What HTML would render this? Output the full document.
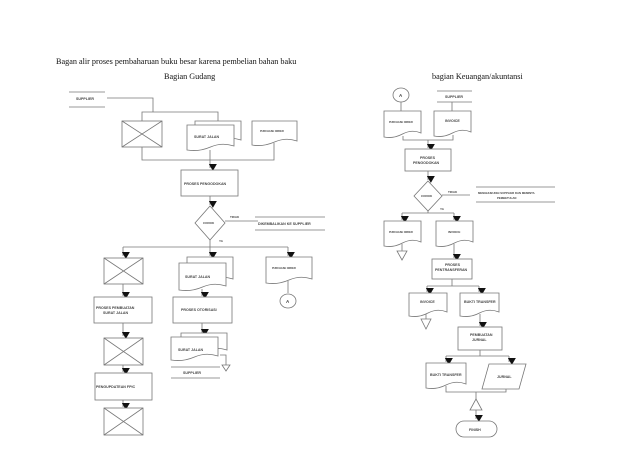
<!DOCTYPE html>
<html><head><meta charset="utf-8"><style>
html,body{margin:0;padding:0;background:#fff;}
svg{display:block;}
.t{font-family:"Liberation Serif",serif;fill:#111;}
.s{font-family:"Liberation Sans",sans-serif;font-size:3.6px;font-weight:bold;fill:#444;}
</style></head><body>
<svg width="638" height="452" viewBox="0 0 638 452" xmlns="http://www.w3.org/2000/svg">
<defs>
<marker id="a" markerUnits="userSpaceOnUse" markerWidth="8" markerHeight="8" refX="3.5" refY="6" orient="auto-start-reverse" viewBox="0 0 7 7"><path d="M0 0 L7 0 L3.5 6 Z" fill="#111" transform="rotate(-90 3.5 3.5)"/></marker>
</defs>
<text class="t" x="56" y="64" font-size="8.2">Bagan alir proses pembaharuan buku besar karena pembelian bahan baku</text>
<text class="t" x="164" y="79" font-size="8.2">Bagian Gudang</text>
<text class="t" x="432" y="79" font-size="8.2">bagian Keuangan/akuntansi</text>

<g fill="#fff" stroke="#777" stroke-width="0.8">
<!-- LEFT -->
<line x1="69" y1="92" x2="105" y2="92"/><line x1="69" y1="107" x2="105" y2="107"/>
<polyline fill="none" points="107,98 153,98 153,112"/>
<polyline fill="none" points="142,121 142,112 218,112 218,121"/>
<rect x="122" y="121" width="40" height="26"/><path d="M122 121 L162 147 M162 121 L122 147"/>
<path d="M195 121 H241 V140 Q229.5 136 218 141 T195 144 Z"/>
<path d="M187 125 H234 V146 Q222 142 210.5 147 T187 150 Z"/>
<path d="M252 121 H297 V141 Q286 137 274.5 142 T252 145 Z"/>
<polyline fill="none" points="142,147 142,160 274,160 274,143"/>
<line x1="210" y1="150" x2="210" y2="168" marker-end="url(#a)"/>
<rect x="181" y="170" width="57" height="26"/>
<line x1="210" y1="196" x2="210" y2="205" marker-end="url(#a)"/>
<path d="M210 206 L225 223 L210 240 L195 223 Z"/>
<line x1="225" y1="221" x2="258" y2="221"/>
<line x1="255" y1="217" x2="325" y2="217"/><line x1="255" y1="230" x2="325" y2="230"/>
<line x1="210" y1="240" x2="210" y2="247"/>
<line x1="123" y1="247" x2="288" y2="247"/>
<line x1="123" y1="247" x2="123" y2="256" marker-end="url(#a)"/>
<line x1="210" y1="247" x2="210" y2="256" marker-end="url(#a)"/>
<line x1="288" y1="247" x2="288" y2="256" marker-end="url(#a)"/>
<rect x="104" y="258" width="39" height="26"/><path d="M104 258 L143 284 M143 258 L104 284"/>
<line x1="123" y1="284" x2="123" y2="296" marker-end="url(#a)"/>
<rect x="94" y="297" width="58" height="26"/>
<line x1="123" y1="323" x2="123" y2="336" marker-end="url(#a)"/>
<rect x="104" y="338" width="39" height="27"/><path d="M104 338 L143 365 M143 338 L104 365"/>
<line x1="123" y1="365" x2="123" y2="372" marker-end="url(#a)"/>
<rect x="95" y="373" width="57" height="27"/>
<line x1="123" y1="400" x2="123" y2="407" marker-end="url(#a)"/>
<rect x="104" y="408" width="39" height="27"/><path d="M104 408 L143 435 M143 408 L104 435"/>
<path d="M187 257 H233 V279 Q221.5 275 210 280 T187 283 Z"/>
<path d="M179 263 H226 V286 Q214 282 202.5 287 T179 290 Z"/>
<line x1="202" y1="289" x2="202" y2="296" marker-end="url(#a)"/>
<rect x="173" y="297" width="59" height="26"/>
<line x1="202" y1="323" x2="202" y2="333" marker-end="url(#a)"/>
<path d="M181 333 H227 V350 Q215.5 346 204 351 T181 354 Z"/>
<path d="M171 337 H218 V356 Q206 352 194.5 357 T171 360 Z"/>
<polyline fill="none" points="220,355 226,355 226,365"/>
<path d="M222 365 L230 365 L226 371 Z"/>
<line x1="171" y1="367" x2="220" y2="367"/><line x1="171" y1="378" x2="220" y2="378"/>
<path d="M266 257 H312 V279 Q300.5 275 289 280 T266 283 Z"/>
<line x1="288" y1="281" x2="288" y2="293"/>
<ellipse cx="288" cy="301" rx="8" ry="7"/>
<!-- RIGHT -->
<ellipse cx="401" cy="95" rx="8" ry="7"/>
<line x1="401" y1="102" x2="401" y2="111"/>
<line x1="437" y1="91" x2="472" y2="91"/><line x1="437" y1="102" x2="472" y2="102"/>
<line x1="452" y1="102" x2="452" y2="111"/>
<path d="M384 111 H421 V133 Q412 129 402.5 134 T384 137 Z"/>
<path d="M434 111 H471 V132 Q462 128 452.5 133 T434 136 Z"/>
<polyline fill="none" points="403,136 403,140 453,140 453,135"/>
<line x1="428" y1="140" x2="428" y2="148" marker-end="url(#a)"/>
<rect x="405" y="149" width="46" height="22"/>
<line x1="428" y1="171" x2="428" y2="180" marker-end="url(#a)"/>
<path d="M428 181 L442 196 L428 211 L414 196 Z"/>
<line x1="442" y1="195" x2="470" y2="195"/>
<line x1="476" y1="187" x2="555" y2="187"/><line x1="476" y1="202" x2="555" y2="202"/>
<line x1="428" y1="211" x2="428" y2="213"/>
<line x1="402" y1="213" x2="454" y2="213"/>
<line x1="402" y1="213" x2="402" y2="220" marker-end="url(#a)"/>
<line x1="454" y1="213" x2="454" y2="220" marker-end="url(#a)"/>
<path d="M384 221 H421 V242 Q412 238 402.5 243 T384 246 Z"/>
<line x1="402" y1="244" x2="402" y2="251"/>
<path d="M397 251 L407 251 L402 260 Z"/>
<path d="M436 221 H473 V242 Q464 238 454.5 243 T436 246 Z"/>
<line x1="454" y1="244" x2="454" y2="258" marker-end="url(#a)"/>
<rect x="432" y="259" width="40" height="20"/>
<line x1="452" y1="279" x2="452" y2="286"/>
<line x1="427" y1="286" x2="479" y2="286"/>
<line x1="427" y1="286" x2="427" y2="292" marker-end="url(#a)"/>
<line x1="479" y1="286" x2="479" y2="292" marker-end="url(#a)"/>
<path d="M409 293 H447 V312 Q437.5 308 428 313 T409 316 Z"/>
<line x1="426" y1="314" x2="426" y2="319"/>
<path d="M421 319 L431 319 L426 329 Z"/>
<path d="M460 293 H499 V312 Q489 308 479.5 313 T460 316 Z"/>
<line x1="480" y1="314" x2="480" y2="326" marker-end="url(#a)"/>
<rect x="458" y="327" width="44" height="23"/>
<line x1="480" y1="350" x2="480" y2="356"/>
<line x1="446" y1="356" x2="509" y2="356"/>
<line x1="446" y1="356" x2="446" y2="362" marker-end="url(#a)"/>
<line x1="509" y1="356" x2="509" y2="362" marker-end="url(#a)"/>
<path d="M426 363 H466 V384 Q456 380 446 385 T426 388 Z"/>
<path d="M489 364 L526 364 L519 389 L482 389 Z"/>
<polyline fill="none" points="446,386 446,392 506,392 506,389"/>
<line x1="476" y1="392" x2="476" y2="399"/>
<path d="M476 399 L482 410 L470 410 Z"/>
<line x1="476" y1="410" x2="476" y2="419" marker-end="url(#a)"/>
<rect x="456" y="421" width="41" height="16" rx="8"/>
</g>

<g class="s">
<text x="76" y="100">SUPPLIER</text>
<text x="194" y="138">SURAT JALAN</text>
<text x="260" y="132" font-size="2.5">PURCHASE ORDER</text>
<text x="184" y="185">PROSES PENGODOKAN</text>
<text x="203" y="224" font-size="3">CODOK</text>
<text x="230" y="218" font-size="3">TIDAK</text>
<text x="258" y="225">DIKEMBALIKAN KE SUPPLIER</text>
<text x="219" y="242" font-size="3">YA</text>
<text x="96" y="309">PROSES PEMBUATAN</text>
<text x="103" y="314">SURAT JALAN</text>
<text x="96" y="388">PENGUPDATEAN FPIC</text>
<text x="185" y="278">SURAT JALAN</text>
<text x="181" y="311">PROSES OTORISASI</text>
<text x="178" y="351">SURAT JALAN</text>
<text x="183" y="374">SUPPLIER</text>
<text x="272" y="269" font-size="2.5">PURCHASE ORDER</text>
<text x="286" y="303" font-size="4.5">A</text>
<text x="399" y="97" font-size="4.5">A</text>
<text x="445" y="98">SUPPLIER</text>
<text x="389" y="123" font-size="2.5">PURCHASE ORDER</text>
<text x="445" y="122">INVOICE</text>
<text x="420" y="159">PROSES</text>
<text x="413" y="164">PENGODOKAN</text>
<text x="421" y="197" font-size="3">CODOK</text>
<text x="448" y="193" font-size="3">TIDAK</text>
<text x="478" y="194" font-size="2.8">MENGHUBUNGI SUPPLIER DAN MEMINTA</text>
<text x="497" y="199" font-size="2.8">PEMBETULAN</text>
<text x="440" y="210" font-size="3">YA</text>
<text x="389" y="233" font-size="2.5">PURCHASE ORDER</text>
<text x="448" y="233" font-size="3">INVOICE</text>
<text x="445" y="266">PROSES</text>
<text x="435" y="271">PENTRANSFERAN</text>
<text x="420" y="303">INVOICE</text>
<text x="464" y="303">BUKTI TRANSFER</text>
<text x="470" y="336">PEMBUATAN</text>
<text x="472" y="341">JURNAL</text>
<text x="430" y="376">BUKTI TRANSFER</text>
<text x="497" y="378">JURNAL</text>
<text x="469" y="431">FINISH</text>
</g>
</svg>
</body></html>
